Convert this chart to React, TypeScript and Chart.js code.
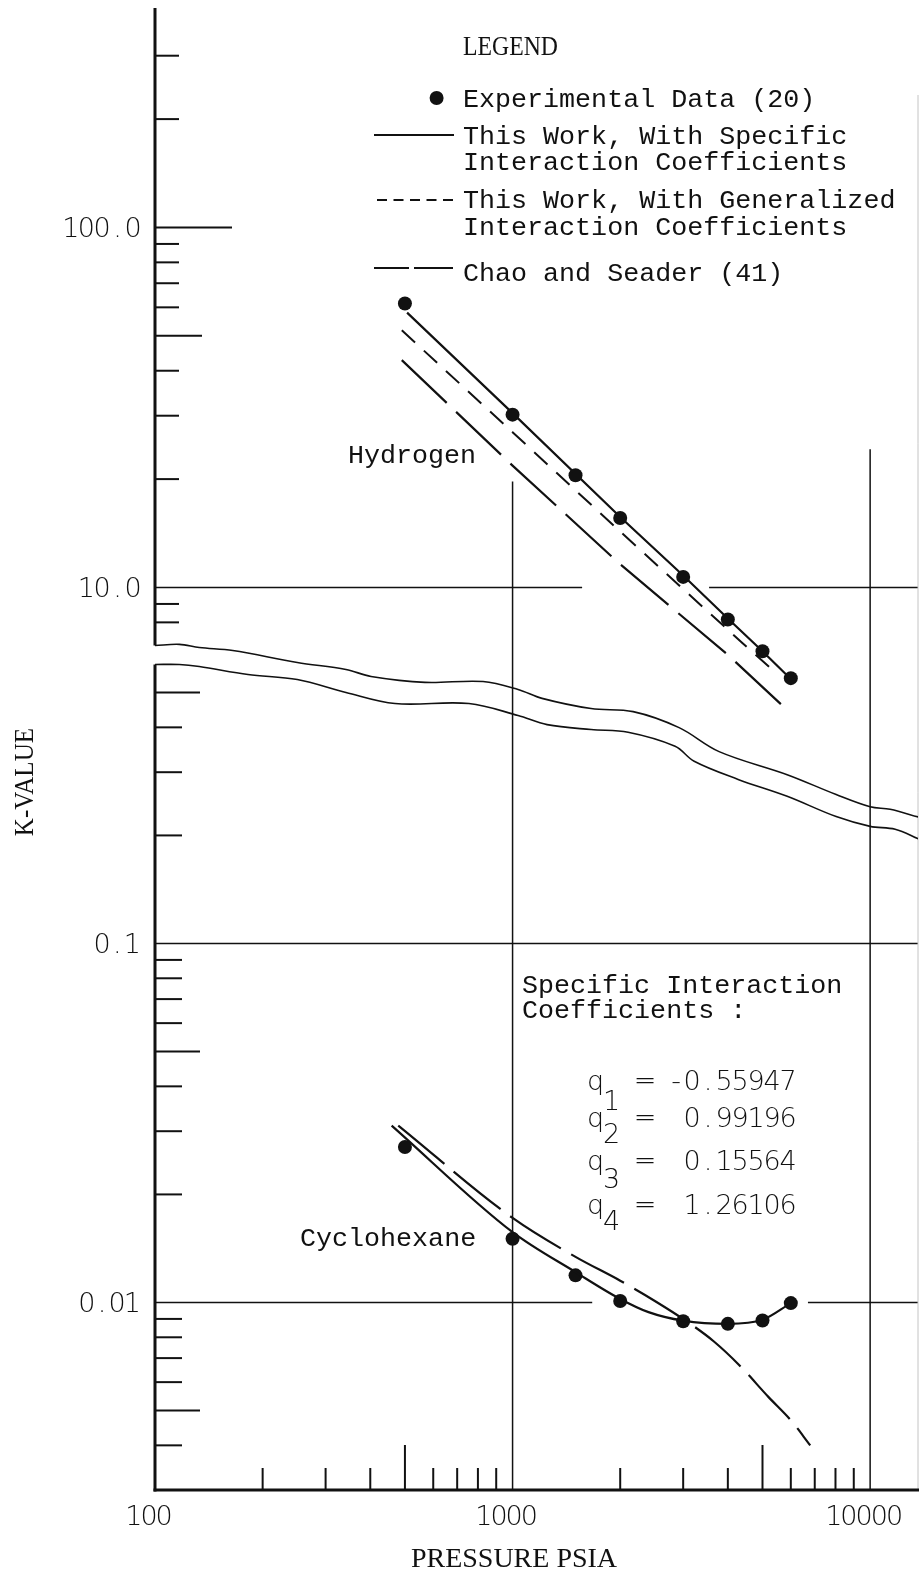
import React, { useEffect, useRef } from 'react';
import { Chart, registerables } from 'chart.js';

Chart.register(...registerables);

// ---------- Hydrogen (upper panel) ----------
const H2_PRESSURE = [500, 1000, 1500, 2000, 3000, 4000, 5000, 6000];
const H2_K_EXP = [61.5, 30.2, 20.5, 15.6, 10.7, 8.15, 6.65, 5.6];

const H2_SPECIFIC_P = [507, 1000, 2000, 3000, 4000, 5000, 5900];
const H2_SPECIFIC_K = [58, 30.5, 15.7, 10.8, 8.2, 6.65, 5.66];

const H2_GENERAL_P = [490, 1000, 2000, 3000, 4400, 5500];
const H2_GENERAL_K = [51.8, 27.0, 14.3, 9.9, 7.0, 5.75];

const H2_CHAO_P = [490, 1000, 2000, 4000, 5750];
const H2_CHAO_K = [42.8, 21.8, 11.6, 6.5, 4.65];

// ---------- Cyclohexane (lower panel) ----------
const C6_PRESSURE = [500, 1000, 1500, 2000, 3000, 4000, 5000, 6000];
const C6_K_EXP = [0.0271, 0.01505, 0.0119, 0.0101, 0.00887, 0.00872, 0.00891, 0.00996];

const C6_SPECIFIC_P = [459, 1000, 1500, 2000, 2400, 3000, 4000, 5000, 6000];
const C6_SPECIFIC_K = [0.0311, 0.0157, 0.01215, 0.01023, 0.0094, 0.0089, 0.00872, 0.00895, 0.00996];

const C6_CHAO_P = [479, 1000, 1500, 2000, 2500, 3100, 3650, 4300, 5200, 6000, 6800];
const C6_CHAO_K = [0.0311, 0.0172, 0.0134, 0.0115, 0.0101, 0.0088, 0.0078, 0.0067, 0.00545, 0.0047, 0.004];

// ---------- axis break (wavy band), in upper-panel units ----------
const BREAK_TOP_P = [100, 117, 133, 165, 250, 342, 402, 569, 827, 1036, 1209, 1658, 2174, 2922, 3781, 5861, 8034, 10000, 11374, 13712];
const BREAK_TOP_K = [6.9, 6.95, 6.81, 6.68, 6.19, 5.92, 5.66, 5.45, 5.48, 5.21, 4.92, 4.61, 4.52, 4.08, 3.5, 3.02, 2.66, 2.46, 2.42, 2.3];
const BREAK_BOTTOM_P = [100, 117, 133, 182, 250, 342, 469, 755, 1036, 1249, 1658, 2104, 2848, 3220, 4273, 5861, 8034, 10000, 11749, 13712];
const BREAK_BOTTOM_K = [6.11, 6.11, 6.03, 5.73, 5.55, 5.11, 4.76, 4.76, 4.41, 4.16, 4.03, 3.96, 3.62, 3.29, 2.93, 2.63, 2.31, 2.17, 2.13, 2.0];

// ---------- axes ----------
const X_MIN = 100;
const X_MAX = 13610;
const Y_UPPER_MIN = 0.03112;
const Y_UPPER_MAX = 331.7;
const Y_LOWER_MIN = 0.003004;
const Y_LOWER_MAX = 32.86;

const X_LABELS = [100, 1000, 10000];
const X_MINOR_TICKS = [200, 300, 400, 600, 700, 800, 900, 2000, 3000, 4000, 6000, 7000, 8000, 9000];
const X_MID_TICKS = [500, 5000];

const UPPER_LABELS = [100, 10];
const UPPER_LABEL_TEXT = ['100.0', '10.0'];
const UPPER_MINOR_TICKS = [300, 200, 90, 80, 70, 60, 40, 30, 20, 9, 8];
const UPPER_MID_TICKS = [50];

const LOWER_LABELS = [0.1, 0.01];
const LOWER_LABEL_TEXT = ['0.1', '0.01'];
const LOWER_MINOR_TICKS = [0.4, 0.3, 0.2, 0.09, 0.08, 0.07, 0.06, 0.04, 0.03, 0.02, 0.009, 0.008, 0.007, 0.006, 0.004];
const LOWER_MID_TICKS = [0.5, 0.05, 0.005];

const COEFF_INDEX = ['1', '2', '3', '4'];
const COEFF_VALUE = ['-0.55947', '0.99196', '0.15564', '1.26106'];

const INK = '#111';
const TYPE_FONT = "26.7px 'Liberation Mono', 'DejaVu Sans Mono', monospace";
const LETTER_FONT = "200 27px 'DejaVu Sans', sans-serif";
const CAPS_FONT = "'Liberation Serif', 'DejaVu Serif', serif";

const pts = (xs: number[], ys: number[]) => xs.map((x, i) => ({ x, y: ys[i] }));

function drawText(ctx: CanvasRenderingContext2D, s: string, x: number, y: number, font: string, align: CanvasTextAlign = 'left', sx = 1) {
  ctx.save();
  ctx.font = font;
  ctx.textAlign = align;
  ctx.textBaseline = 'alphabetic';
  ctx.fillStyle = INK;
  ctx.translate(x, y);
  ctx.scale(sx, 1);
  ctx.fillText(s, 0, 0);
  ctx.restore();
}

// lettering-guide style: every character sits on a fixed pitch, right edge at xRight
function drawStencil(ctx: CanvasRenderingContext2D, s: string, xRight: number, y: number, pitch: number, font: string) {
  ctx.save();
  ctx.font = font;
  ctx.textAlign = 'center';
  ctx.textBaseline = 'alphabetic';
  ctx.fillStyle = INK;
  const n = s.length;
  for (let i = 0; i < n; i++) {
    const cx = xRight - pitch * (n - i) + pitch / 2;
    ctx.fillText(s[i], cx, y);
  }
  ctx.restore();
}

const paperPlugin = {
  id: 'paper',
  beforeDatasetsDraw(chart: any) {
    const { ctx, chartArea: a, scales } = chart;
    const x = scales.x;
    const yU = scales.yU;
    const yL = scales.yL;
    ctx.save();
    ctx.strokeStyle = INK;
    ctx.lineCap = 'butt';

    const hSeg = (py: number, p0: number, p1: number) => {
      ctx.beginPath();
      ctx.moveTo(x.getPixelForValue(p0), py);
      ctx.lineTo(Math.min(x.getPixelForValue(p1), a.right + 1), py);
      ctx.stroke();
    };
    const vSeg = (p: number, y0: number, y1: number) => {
      const px = x.getPixelForValue(p);
      ctx.beginPath();
      ctx.moveTo(px, y0);
      ctx.lineTo(px, y1);
      ctx.stroke();
    };

    // partial grid lines
    ctx.lineWidth = 1.5;
    hSeg(yU.getPixelForValue(10), 100, 1565);
    hSeg(yU.getPixelForValue(10), 3545, X_MAX);
    hSeg(yL.getPixelForValue(0.1), 100, X_MAX);
    hSeg(yL.getPixelForValue(0.01), 100, 1670);
    hSeg(yL.getPixelForValue(0.01), 6700, X_MAX);
    vSeg(1000, yU.getPixelForValue(19.7), a.bottom);
    vSeg(10000, yU.getPixelForValue(24.2), a.bottom);

    // faint paper edge on the right
    ctx.save();
    ctx.strokeStyle = '#c4c4c4';
    ctx.lineWidth = 1;
    ctx.beginPath();
    ctx.moveTo(a.right, 95);
    ctx.lineTo(a.right, a.bottom);
    ctx.stroke();
    ctx.restore();

    // left axis, broken at the wavy band
    ctx.lineWidth = 3;
    ctx.beginPath();
    ctx.moveTo(a.left, 8);
    ctx.lineTo(a.left, yU.getPixelForValue(BREAK_TOP_K[0]));
    ctx.moveTo(a.left, yU.getPixelForValue(BREAK_BOTTOM_K[0]));
    ctx.lineTo(a.left, a.bottom + 1.5);
    ctx.stroke();
    // bottom axis
    ctx.beginPath();
    ctx.moveTo(a.left - 1.5, a.bottom);
    ctx.lineTo(a.right + 1, a.bottom);
    ctx.stroke();

    // left ticks
    ctx.lineWidth = 2;
    const yTick = (py: number, len: number) => {
      ctx.beginPath();
      ctx.moveTo(a.left, py);
      ctx.lineTo(a.left + len, py);
      ctx.stroke();
    };
    UPPER_MINOR_TICKS.forEach((v) => yTick(yU.getPixelForValue(v), 24));
    UPPER_MID_TICKS.forEach((v) => yTick(yU.getPixelForValue(v), 47));
    yTick(yU.getPixelForValue(100), 77);
    LOWER_MINOR_TICKS.forEach((v) => yTick(yL.getPixelForValue(v), 27));
    LOWER_MID_TICKS.forEach((v) => yTick(yL.getPixelForValue(v), 45));

    // bottom ticks
    const xTick = (p: number, len: number) => {
      const px = x.getPixelForValue(p);
      ctx.beginPath();
      ctx.moveTo(px, a.bottom);
      ctx.lineTo(px, a.bottom - len);
      ctx.stroke();
    };
    X_MINOR_TICKS.forEach((p) => xTick(p, 22));
    X_MID_TICKS.forEach((p) => xTick(p, 45));
    ctx.restore();
  },
  afterDraw(chart: any) {
    const { ctx, scales } = chart;
    const x = scales.x;
    const yU = scales.yU;
    const yL = scales.yL;

    // tick labels
    UPPER_LABELS.forEach((v, i) => drawStencil(ctx, UPPER_LABEL_TEXT[i], 141, yU.getPixelForValue(v) + 9.5, 15.6, LETTER_FONT));
    LOWER_LABELS.forEach((v, i) => drawStencil(ctx, LOWER_LABEL_TEXT[i], 140, yL.getPixelForValue(v) + 9.5, 15.2, LETTER_FONT));
    X_LABELS.forEach((p) => {
      const s = String(p);
      const px = x.getPixelForValue(p) - 6;
      drawStencil(ctx, s, px + (s.length * 15.2) / 2, 1525, 15.2, LETTER_FONT);
    });

    // axis titles
    drawText(ctx, 'PRESSURE PSIA', 514, 1567, `28px ${CAPS_FONT}`, 'center', 1.0);
    ctx.save();
    ctx.translate(33, 782);
    ctx.rotate(-Math.PI / 2);
    drawText(ctx, 'K-VALUE', 0, 0, `27px ${CAPS_FONT}`, 'center', 0.93);
    ctx.restore();

    // legend
    drawText(ctx, 'LEGEND', 463, 55, `27px ${CAPS_FONT}`, 'left', 0.88);
    ctx.save();
    ctx.fillStyle = INK;
    ctx.beginPath();
    ctx.arc(436.6, 98, 7, 0, Math.PI * 2);
    ctx.fill();
    ctx.strokeStyle = INK;
    ctx.lineWidth = 2.2;
    ctx.beginPath();
    ctx.moveTo(374, 135);
    ctx.lineTo(454, 135);
    ctx.stroke();
    ctx.lineWidth = 1.8;
    ctx.setLineDash([10, 6.5]);
    ctx.beginPath();
    ctx.moveTo(377, 200);
    ctx.lineTo(454, 200);
    ctx.stroke();
    ctx.setLineDash([]);
    ctx.lineWidth = 2.2;
    ctx.beginPath();
    ctx.moveTo(374, 268);
    ctx.lineTo(409, 268);
    ctx.moveTo(414, 268);
    ctx.lineTo(453, 268);
    ctx.stroke();
    ctx.restore();

    drawText(ctx, 'Experimental Data (20)', 463, 107, TYPE_FONT);
    drawText(ctx, 'This Work, With Specific', 463, 144, TYPE_FONT);
    drawText(ctx, 'Interaction Coefficients', 463, 170, TYPE_FONT);
    drawText(ctx, 'This Work, With Generalized', 463, 208, TYPE_FONT);
    drawText(ctx, 'Interaction Coefficients', 463, 235, TYPE_FONT);
    drawText(ctx, 'Chao and Seader (41)', 463, 281, TYPE_FONT);

    // curve labels
    drawText(ctx, 'Hydrogen', 348, 463, TYPE_FONT);
    drawText(ctx, 'Cyclohexane', 300, 1246, TYPE_FONT);

    // coefficient block
    drawText(ctx, 'Specific Interaction', 522, 993, TYPE_FONT);
    drawText(ctx, 'Coefficients :', 522, 1018, TYPE_FONT);
    const rowBase = [1090, 1127, 1170, 1214];
    const subBase = [1110, 1143, 1188, 1230];
    COEFF_INDEX.forEach((k, i) => {
      drawText(ctx, 'q', 587, rowBase[i], LETTER_FONT);
      drawText(ctx, k, 603, subBase[i], LETTER_FONT);
      drawText(ctx, '=', 645, rowBase[i] - 1, LETTER_FONT, 'center');
      drawStencil(ctx, COEFF_VALUE[i], 796, rowBase[i], 16, LETTER_FONT);
    });
  },
};

const lineDs = (data: any[], axis: string, extra: any = {}) => ({
  data,
  yAxisID: axis,
  showLine: true,
  borderColor: INK,
  borderWidth: 2.2,
  pointRadius: 0,
  fill: false,
  ...extra,
});

const pointDs = (data: any[], axis: string) => ({
  data,
  yAxisID: axis,
  showLine: false,
  pointRadius: 7,
  pointBackgroundColor: INK,
  pointBorderWidth: 0,
  pointStyle: 'circle',
});

export default function App() {
  const ref = useRef<HTMLCanvasElement>(null);

  useEffect(() => {
    if (!ref.current) return;
    const chart = new Chart(ref.current, {
      type: 'scatter',
      data: {
        datasets: [
          lineDs(pts(BREAK_TOP_P, BREAK_TOP_K), 'yU', { borderWidth: 1.6, tension: 0.35 }),
          lineDs(pts(BREAK_BOTTOM_P, BREAK_BOTTOM_K), 'yU', { borderWidth: 1.6, tension: 0.35 }),
          lineDs(pts(H2_SPECIFIC_P, H2_SPECIFIC_K), 'yU'),
          lineDs(pts(H2_GENERAL_P, H2_GENERAL_K), 'yU', { borderDash: [18, 12], borderWidth: 2 }),
          lineDs(pts(H2_CHAO_P, H2_CHAO_K), 'yU', { borderDash: [62, 13] }),
          pointDs(pts(H2_PRESSURE, H2_K_EXP), 'yU'),
          lineDs(pts(C6_SPECIFIC_P, C6_SPECIFIC_K), 'yL', { cubicInterpolationMode: 'monotone' }),
          lineDs(pts(C6_CHAO_P, C6_CHAO_K), 'yL', { borderDash: [60, 12], cubicInterpolationMode: 'monotone' }),
          pointDs(pts(C6_PRESSURE, C6_K_EXP), 'yL'),
        ],
      },
      options: {
        responsive: false,
        animation: false,
        events: [],
        layout: { autoPadding: false, padding: { left: 155, top: 40, right: 1, bottom: 80 } },
        plugins: { legend: { display: false }, tooltip: { enabled: false } },
        scales: {
          x: { type: 'logarithmic', min: X_MIN, max: X_MAX, display: false },
          yU: { type: 'logarithmic', position: 'left', min: Y_UPPER_MIN, max: Y_UPPER_MAX, display: false },
          yL: { type: 'logarithmic', position: 'left', min: Y_LOWER_MIN, max: Y_LOWER_MAX, display: false },
        },
      } as any,
      plugins: [paperPlugin],
    } as any);
    return () => chart.destroy();
  }, []);

  return (
    <div style={{ position: 'absolute', left: 0, top: 0, width: 919, height: 1570, background: '#fff' }}>
      <canvas ref={ref} width={919} height={1570} style={{ display: 'block', width: 919, height: 1570 }} />
    </div>
  );
}
